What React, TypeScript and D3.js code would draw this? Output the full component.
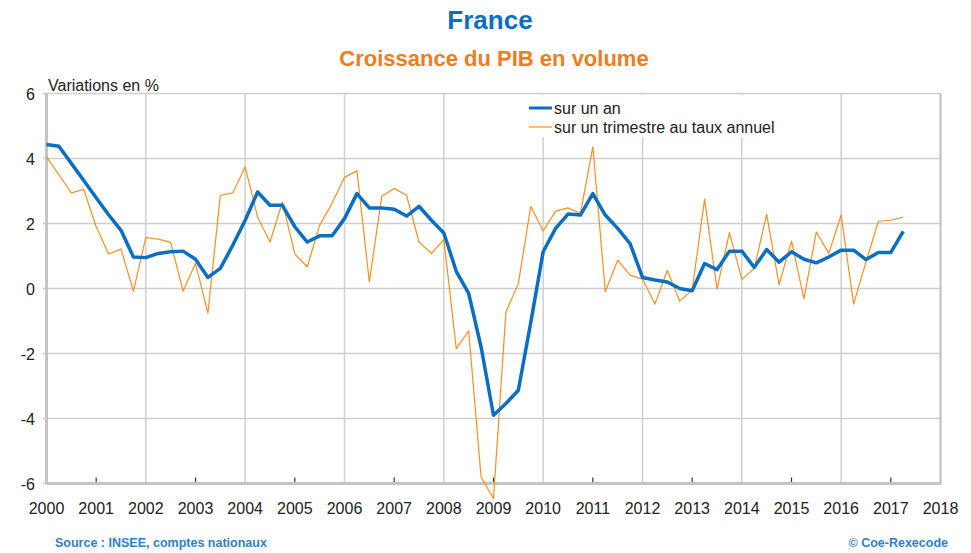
import React from 'react';
import * as d3 from 'd3';

const START_YEAR = 2000;

// Glissement annuel (sur un an), trimestriel 2000T1 - 2017T2
const surUnAn = [
  4.43, 4.38, 3.85, 3.32, 2.79, 2.27, 1.79, 0.97,
  0.95, 1.08, 1.13, 1.15, 0.9, 0.34, 0.62, 1.33,
  2.1, 2.97, 2.56, 2.56, 1.9, 1.43, 1.62, 1.62,
  2.15, 2.92, 2.48, 2.48, 2.44, 2.23, 2.53, 2.1,
  1.71, 0.53, -0.15, -1.8, -3.9, -3.54, -3.13, -1.05,
  1.13, 1.85, 2.29, 2.26, 2.92, 2.26, 1.85, 1.38,
  0.34, 0.26, 0.2, 0.0, -0.07, 0.77, 0.58, 1.15,
  1.15, 0.65, 1.2, 0.81, 1.13, 0.9, 0.79, 0.97,
  1.18, 1.18, 0.89, 1.11, 1.11, 1.76,
];

// Variation trimestrielle au taux annuel
const surUnTrimestre = [
  4.05, 3.5, 2.94, 3.05, 1.9, 1.06, 1.21, -0.08,
  1.57, 1.52, 1.42, -0.08, 0.77, -0.76, 2.87, 2.94,
  3.74, 2.2, 1.43, 2.66, 1.06, 0.67, 1.95, 2.62,
  3.42, 3.62, 0.2, 2.84, 3.08, 2.87, 1.43, 1.08,
  1.51, -1.85, -1.3, -5.8, -6.46, -0.72, 0.15, 2.53,
  1.77, 2.38, 2.48, 2.31, 4.36, -0.1, 0.87, 0.41,
  0.29, -0.48, 0.56, -0.39, -0.05, 2.75, -0.02, 1.72,
  0.28, 0.62, 2.28, 0.12, 1.46, -0.31, 1.74, 1.08,
  2.26, -0.48, 0.82, 2.07, 2.1, 2.2,
];

const yearTicks = d3.range(2000, 2019);
const yTicks = [-6, -4, -2, 0, 2, 4, 6];

const W = 971;
const H = 553;
const FONT = 'Liberation Sans, Arial, sans-serif';
const BLUE = '#0a6fc2';
const ORANGE = '#f7901e';
const GRID = '#cfcfcf';

export default function App() {
  const x = d3.scaleLinear().domain([2000, 2018]).range([46.5, 940.5]);
  const y = d3.scaleLinear().domain([-6, 6]).range([483.5, 93.5]);

  const line = d3
    .line<number>()
    .x((_, i) => x(START_YEAR + i / 4))
    .y((d) => y(d));

  const [x0, x1] = x.range();
  const [yb, yt] = y.range();

  return (
    <svg
      width={W}
      height={H}
      viewBox={`0 0 ${W} ${H}`}
      style={{ position: 'absolute', left: 0, top: 0, background: '#fff' }}
      fontFamily={FONT}
    >
      {/* titres */}
      <text x={490} y={29} textAnchor="middle" fontSize={26} fontWeight="bold" fill={BLUE}>
        France
      </text>
      <text x={494} y={66} textAnchor="middle" fontSize={22} fontWeight="bold" fill="#ee7d1e">
        Croissance du PIB en volume
      </text>
      <text x={48} y={91} fontSize={16} fill="#222">
        Variations en %
      </text>

      {/* grille horizontale */}
      {yTicks.map((t) => (
        <g key={'y' + t}>
          <line x1={x0 - 4} x2={x1} y1={y(t)} y2={y(t)} stroke={GRID} strokeWidth={1.5} />
          <text x={35} y={y(t) + 6} textAnchor="end" fontSize={16} fill="#222">
            {t}
          </text>
        </g>
      ))}

      {/* grille verticale (années paires) et graduations (années impaires) */}
      {yearTicks.map((yr) =>
        yr % 2 === 0 ? (
          <line key={'gx' + yr} x1={x(yr)} x2={x(yr)} y1={yt} y2={yb} stroke={GRID} strokeWidth={1.5} />
        ) : (
          <line key={'tx' + yr} x1={x(yr)} x2={x(yr)} y1={yb - 6} y2={yb} stroke="#333" strokeWidth={1.2} />
        )
      )}
      {yearTicks.map((yr) => (
        <text key={'lx' + yr} x={x(yr)} y={514} textAnchor="middle" fontSize={16} fill="#222">
          {yr}
        </text>
      ))}

      {/* cadre */}
      <line x1={x0} x2={x0} y1={yt} y2={yb} stroke="#c4c4c4" strokeWidth={3} />
      <line x1={x0} x2={x1 + 1} y1={yb} y2={yb} stroke="#c4c4c4" strokeWidth={3} />
      <line x1={x1} x2={x1} y1={yt} y2={yb} stroke="#c4c4c4" strokeWidth={2} />

      {/* séries */}
      <path d={line(surUnTrimestre) ?? ''} fill="none" stroke={ORANGE} strokeWidth={1.2} strokeLinejoin="round" />
      <path d={line(surUnAn) ?? ''} fill="none" stroke={BLUE} strokeWidth={3.5} strokeLinejoin="round" />

      {/* légende */}
      <rect x={524} y={95} width={267} height={42} fill="#fff" />
      <line x1={529} x2={552} y1={108} y2={108} stroke={BLUE} strokeWidth={3} />
      <text x={554} y={114} fontSize={16} fill="#222">
        sur un an
      </text>
      <line x1={529} x2={552} y1={127} y2={127} stroke={ORANGE} strokeWidth={1.2} />
      <text x={554} y={133} fontSize={16} fill="#222">
        sur un trimestre au taux annuel
      </text>

      {/* sources */}
      <text x={55} y={547} fontSize={12.5} fontWeight="bold" fill="#2f7fd0">
        Source : INSEE, comptes nationaux
      </text>
      <text x={948} y={547} textAnchor="end" fontSize={12.5} fontWeight="bold" fill="#2f7fd0">
        © Coe-Rexecode
      </text>
    </svg>
  );
}
